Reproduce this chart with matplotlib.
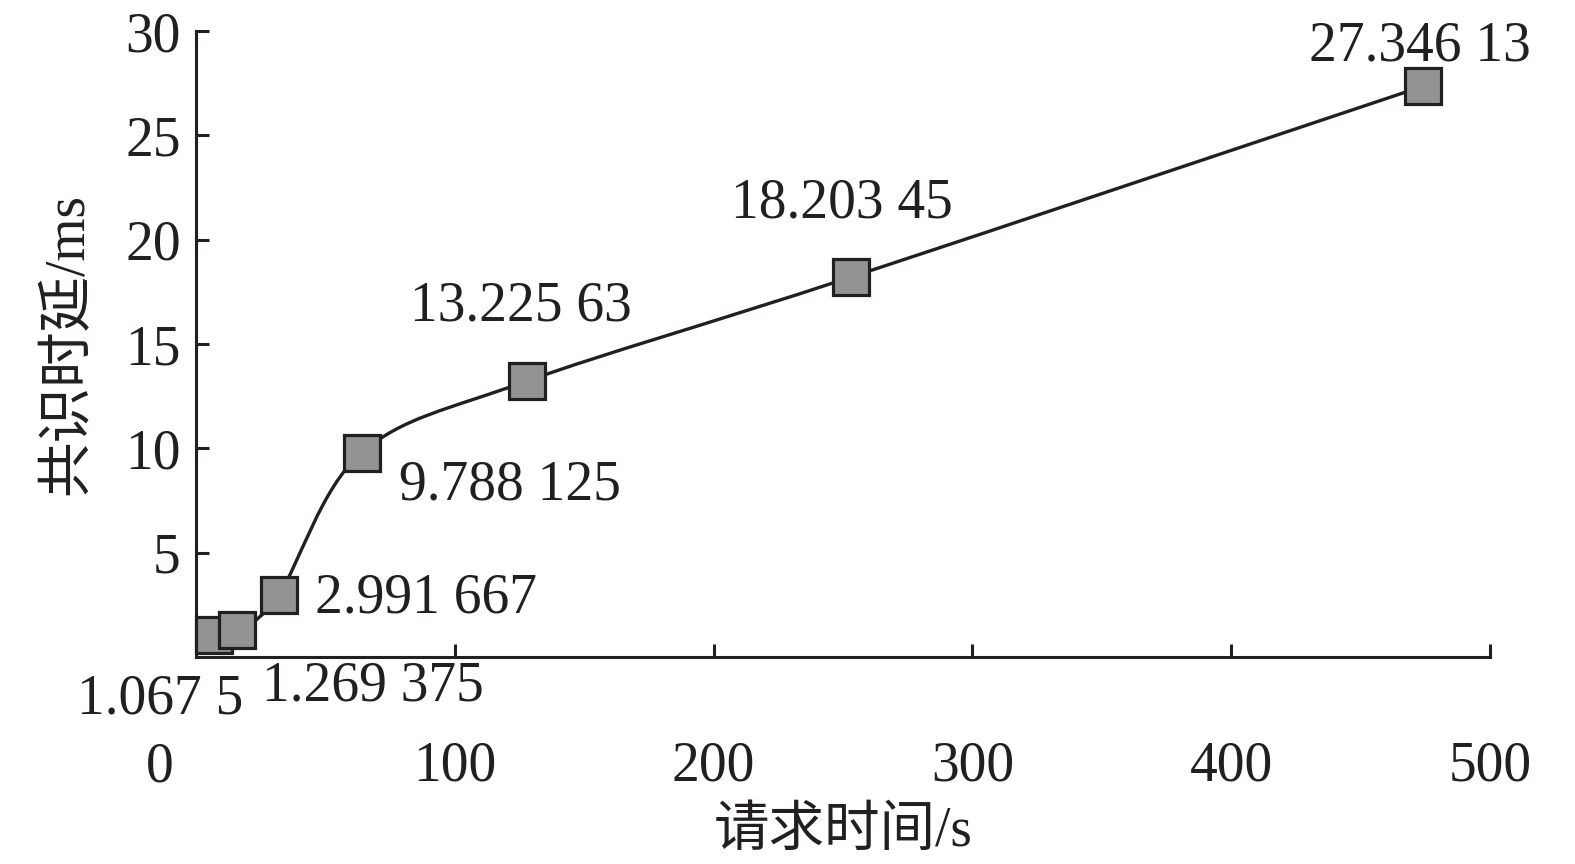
import matplotlib
matplotlib.use("Agg")
import matplotlib.pyplot as plt
from matplotlib.path import Path
from matplotlib.patches import PathPatch

plt.rcParams['font.family'] = ['Liberation Serif', 'Noto Sans CJK SC']

request_time = [7, 16, 32, 64, 128, 253, 474]
latency = [1.0675, 1.269375, 2.991667, 9.788125, 13.22563, 18.20345, 27.34613]
point_labels = ['1.067 5', '1.269 375', '2.991 667', '9.788 125',
                '13.225 63', '18.203 45', '27.346 13']
x_ticks = [100, 200, 300, 400, 500]
y_ticks = [5, 10, 15, 20, 25, 30]

# label offsets in pixels from each marker centre
label_offsets = [(-54, -65), (136, -56), (147, -4), (148, -33),
                 (-6, 75), (-9, 74), (-3, 40)]

ink = '#231f20'

fig = plt.figure(figsize=(15.75, 8.64), dpi=100)
ax = fig.add_axes([0.1244, 0.2396, 0.8216, 0.7245])


def smooth_path(xs, ys):
    # Catmull-Rom style smoothing as bezier segments
    pts = list(zip(xs, ys))
    verts = [pts[0]]
    codes = [Path.MOVETO]
    n = len(pts)
    for i in range(n - 1):
        p0 = pts[i - 1] if i > 0 else pts[i]
        p1 = pts[i]
        p2 = pts[i + 1]
        p3 = pts[i + 2] if i + 2 < n else pts[i + 1]
        c1 = (p1[0] + (p2[0] - p0[0]) / 6, p1[1] + (p2[1] - p0[1]) / 6)
        c2 = (p2[0] - (p3[0] - p1[0]) / 6, p2[1] - (p3[1] - p1[1]) / 6)
        verts += [c1, c2, p2]
        codes += [Path.CURVE4] * 3
    return Path(verts, codes)


ax.add_patch(PathPatch(smooth_path(request_time, latency), facecolor='none',
                       edgecolor=ink, lw=2.4, zorder=2))
ax.plot(request_time, latency, linestyle='none', marker='s', markersize=26,
        markerfacecolor='#939393', markeredgecolor=ink, markeredgewidth=2.3,
        zorder=3, clip_on=False)

for x, y, txt, off in zip(request_time, latency, point_labels, label_offsets):
    ax.annotate(txt, xy=(x, y), xytext=off, textcoords='offset pixels',
                ha='center', va='center', fontsize=40, color=ink)

ax.set_xlim(0, 500)
ax.set_ylim(0, 30)
ax.set_xticks(x_ticks)
ax.set_yticks(y_ticks)
ax.set_xticklabels([str(t) for t in x_ticks])
ax.set_yticklabels([str(t) for t in y_ticks])

for side in ['top', 'right']:
    ax.spines[side].set_visible(False)
for side in ['left', 'bottom']:
    ax.spines[side].set_linewidth(2.2)
    ax.spines[side].set_color(ink)

ax.tick_params(axis='both', direction='in', length=9.5, width=2.2,
               color=ink, labelsize=40, labelcolor=ink)
ax.tick_params(axis='x', pad=60)
ax.tick_params(axis='y', pad=11)

# origin label sits apart from the x tick labels
ax.annotate('0', xy=(0, 0), xytext=(-36, -111), textcoords='offset pixels',
            ha='center', va='center', fontsize=40, color=ink,
            annotation_clip=False)

ax.set_xlabel('请求时间/s', fontsize=40, color=ink, labelpad=10)
ax.set_ylabel('共识时延/ms', fontsize=40, color=ink, labelpad=22)

fig.savefig('out.png', dpi=100)
